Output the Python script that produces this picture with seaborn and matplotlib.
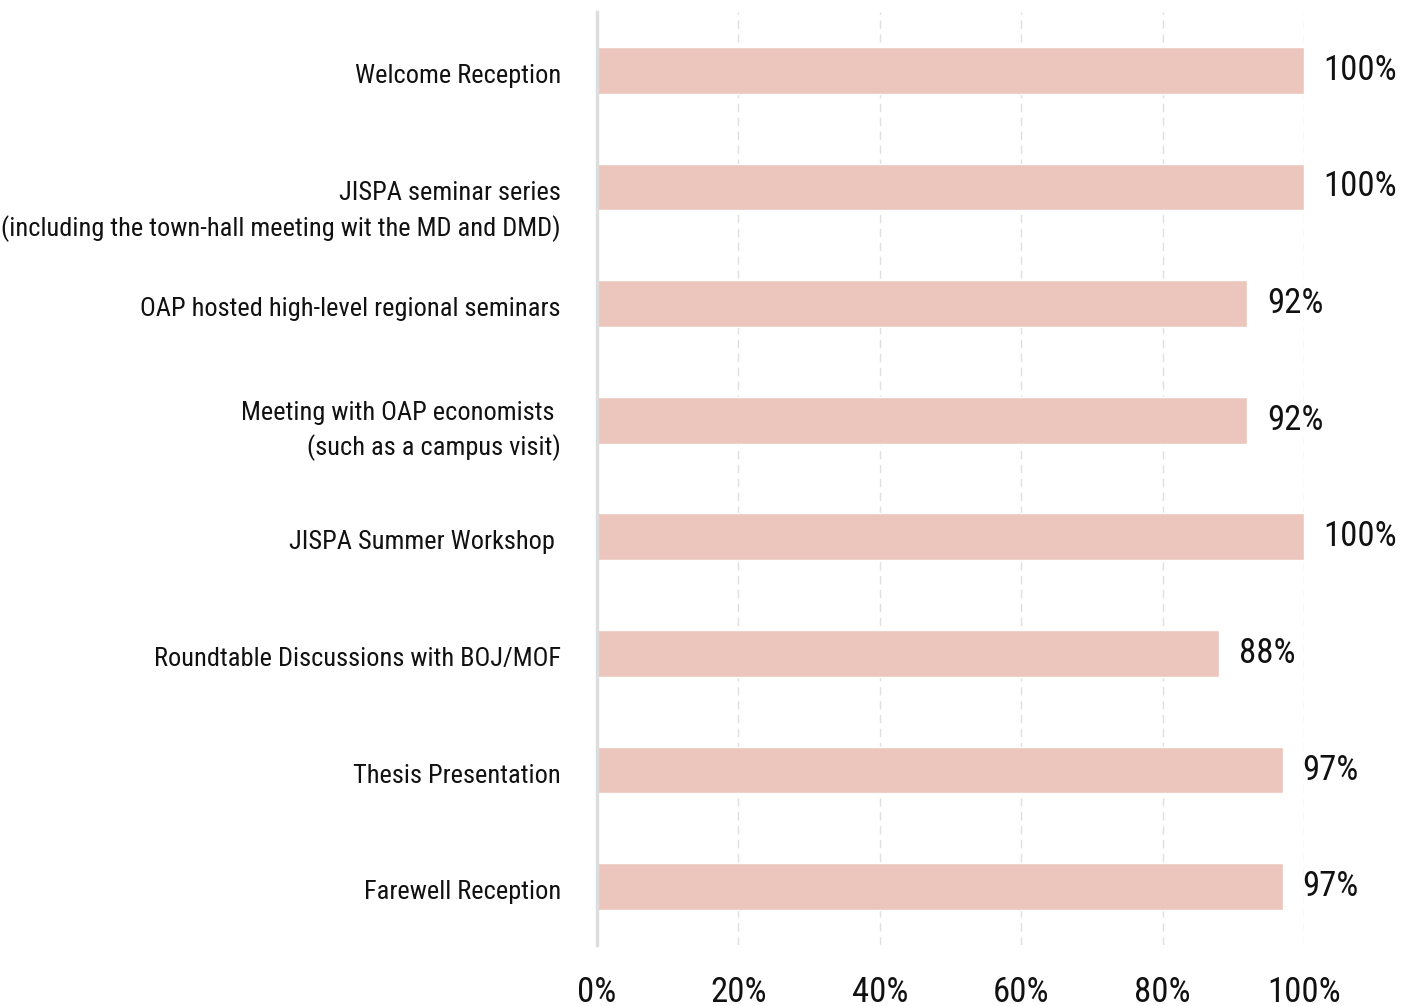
import pandas as pd
import matplotlib.pyplot as plt
import matplotlib.transforms as mtransforms
import seaborn as sns

# categories and share of positive responses (%)
events = [
    "Welcome Reception",
    "JISPA seminar series\n(including the town-hall meeting wit the MD and DMD)",
    "OAP hosted high-level regional seminars",
    "Meeting with OAP economists \n(such as a campus visit)",
    "JISPA Summer Workshop ",
    "Roundtable Discussions with BOJ/MOF",
    "Thesis Presentation",
    "Farewell Reception",
]
shares = [100, 100, 92, 92, 100, 88, 97, 97]
xticks = [0, 20, 40, 60, 80, 100]

df = pd.DataFrame({"event": events, "share": shares})

sns.set_style("white")
plt.rcParams['font.family'] = ['Roboto Condensed', 'DejaVu Sans']

fig = plt.figure(figsize=(14.1, 10.06), dpi=100)
ax = fig.add_axes([597 / 1410, 1 - 945 / 1006, (1304 - 597) / 1410, (945 - 12) / 1006])

sns.barplot(data=df, x="share", y="event", orient="h", color="#ecc6bc",
            saturation=1, width=0.4, ax=ax)

ax.set_xlim(0, 100)
ax.set_ylim(7.5, -0.5)
ax.set_xticks(xticks)
ax.set_xticklabels([f"{t}%" for t in xticks], fontsize=25, color="#111111")
ax.tick_params(axis='x', length=0, pad=22)
ax.tick_params(axis='y', length=0, pad=26, labelsize=19, labelcolor="#111111")

# nudge the category labels down a touch and open up the line spacing
for i, lbl in enumerate(ax.get_yticklabels()):
    dy = 17 if i == 1 else 3   # the seminar-series label sits lower in the original
    shift = mtransforms.ScaledTranslation(0, -dy / 100, fig.dpi_scale_trans)
    lbl.set_multialignment('right')
    lbl.set_linespacing(1.45)
    lbl.set_transform(lbl.get_transform() + shift)
ax.set_xlabel("")
ax.set_ylabel("")

ax.grid(axis='x', linestyle=(0, (6, 4)), color="#e0e0e0", linewidth=1)
ax.set_axisbelow(True)
for s in ["top", "right", "bottom"]:
    ax.spines[s].set_visible(False)
ax.spines["left"].set_color("#dddddd")
ax.spines["left"].set_linewidth(2.5)
ax.spines["left"].set_zorder(5)

for i, v in enumerate(shares):
    ax.text(v + 2.8, i, f"{v}%", va="center", ha="left", fontsize=25,
            color="#111111", clip_on=False)

fig.savefig("out.png", dpi=100)
